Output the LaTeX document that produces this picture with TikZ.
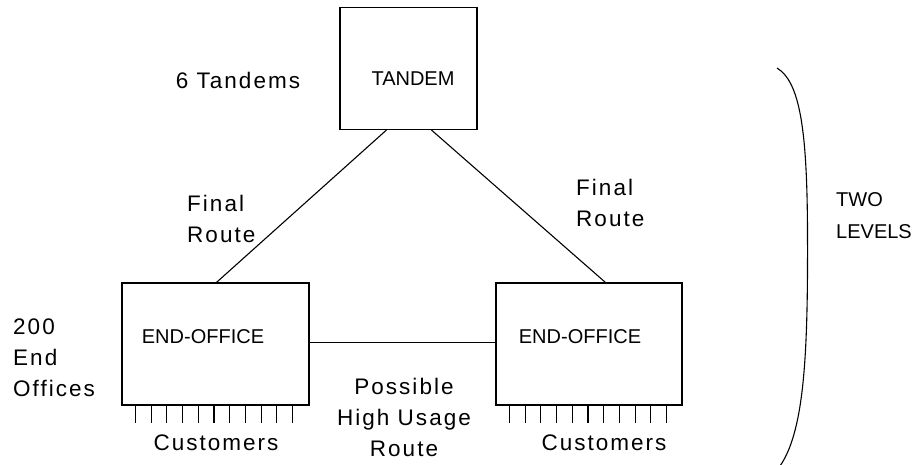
\documentclass[tikz,border=0pt]{standalone}
\usepackage{fontspec}
\setmainfont{Liberation Sans}
\newfontfamily\lsfont[LetterSpace=9]{Liberation Sans}
\usetikzlibrary{calc}
\begin{document}
\begin{tikzpicture}[x=1pt,y=-1pt,
  box/.style={draw,line width=1.1pt,rectangle,inner sep=0pt},
  conn/.style={line width=1.1pt},
  tick/.style={line width=1.1pt},
  lbl/.style={inner sep=0pt,font=\lsfont\fontsize{22.5}{31}\selectfont},
  boxlbl/.style={inner sep=0pt,font=\fontsize{20}{32}\selectfont}]
\useasboundingbox (0,0) rectangle (919,465);
\fill[white] (0,0) rectangle (919,465);
% boxes
\node[box,minimum width=137pt,minimum height=122pt] (tandem) at (408.5,68.5) {};
\node[box,minimum width=187pt,minimum height=122pt] (eo1) at (215.5,344) {};
\node[box,minimum width=186pt,minimum height=122pt] (eo2) at (589,344) {};
% box labels
\node[boxlbl] (tl) at (413,79) {TANDEM};
\node[boxlbl] (e1l) at (203,337) {END-OFFICE};
\node[boxlbl] (e2l) at (580,337) {END-OFFICE};
% connectors
\draw[conn] ([xshift=47pt]tandem.south west) -- ([xshift=95pt]eo1.north west);
\draw[conn] ([xshift=92pt]tandem.south west) -- ([xshift=110pt]eo2.north west);
\draw[conn] ([yshift=-60pt]eo1.north east) -- ([yshift=-60pt]eo2.north west);
% customer ticks
\foreach \i in {0,...,10}{
  \draw[tick] ([xshift={14+15.7*\i}]eo1.south west) -- ++(0,17);
  \draw[tick] ([xshift={14+15.7*\i}]eo2.south west) -- ++(0,17);
}
% labels
\node[lbl] (tandems) at (238,80) {6 Tandems};
\node[lbl,anchor=west,align=left] (fr1) at (187,219) {Final\\Route};
\node[lbl,anchor=west,align=left] (fr2) at (576,203) {Final\\Route};
\node[lbl,anchor=west,align=left] (eoff) at (13,358) {200\\End\\Offices};
\node[lbl,align=center] (hu) at (404,417) {Possible\\High Usage\\Route};
\node[lbl] (c1) at (216,443) {Customers};
\node[lbl] (c2) at (604,443) {Customers};
% bracket
\coordinate (bt) at (777,68);
\coordinate (bb) at (780,466);
\draw[line width=1.1pt] (bt) .. controls (800,82) and (807,130) .. (807.5,230)
  .. controls (808,350) and (805,430) .. (bb);
\node[boxlbl,anchor=west,align=left] (two) at (836,216) {TWO\\LEVELS};
\end{tikzpicture}
\end{document}
